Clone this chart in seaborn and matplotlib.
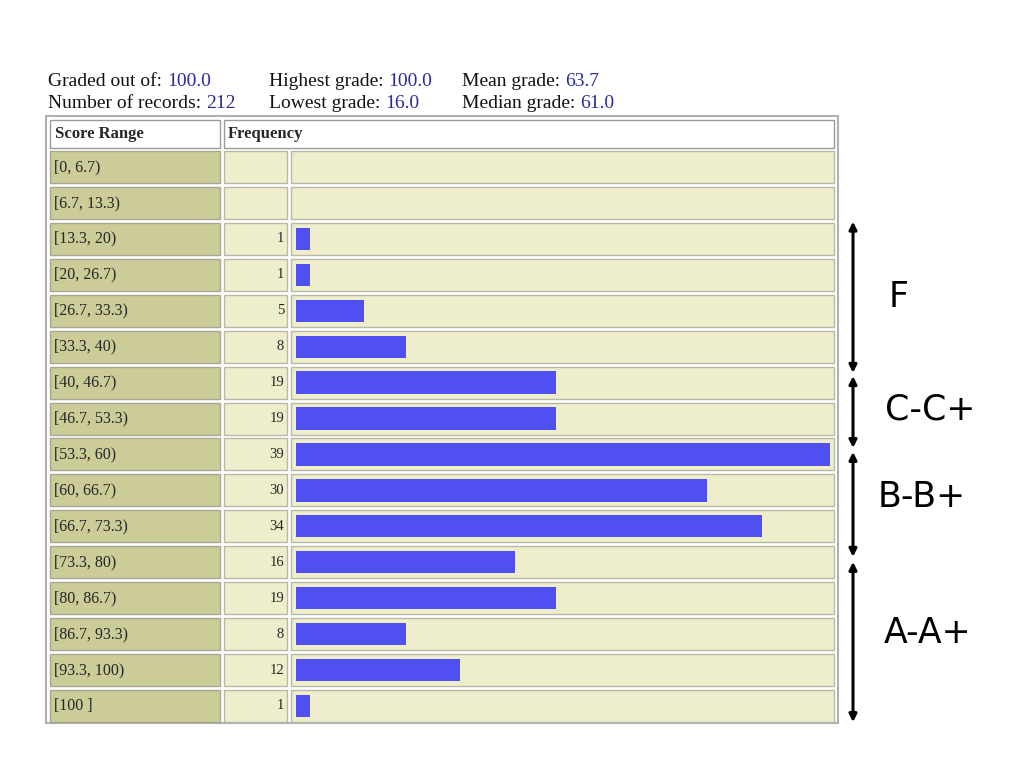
import matplotlib
matplotlib.use("Agg")
import matplotlib.pyplot as plt
import seaborn as sns
import pandas as pd
from matplotlib.patches import Rectangle

# data
ranges = ["[0, 6.7)", "[6.7, 13.3)", "[13.3, 20)", "[20, 26.7)", "[26.7, 33.3)",
          "[33.3, 40)", "[40, 46.7)", "[46.7, 53.3)", "[53.3, 60)", "[60, 66.7)",
          "[66.7, 73.3)", "[73.3, 80)", "[80, 86.7)", "[86.7, 93.3)", "[93.3, 100)",
          "[100 ]"]
freq = [0, 0, 1, 1, 5, 8, 19, 19, 39, 30, 34, 16, 19, 8, 12, 1]

stat_labels = [["Graded out of:", "Number of records:"],
               ["Highest grade:", "Lowest grade:"],
               ["Mean grade:", "Median grade:"]]
stat_values = [["100.0", "212"], ["100.0", "16.0"], ["63.7", "61.0"]]

grade_bands = ["F", "C-C+", "B-B+", "A-A+"]
# hand-drawn arrow extents, in row units (row index, 0 = first row)
band_span = [(1.52, 5.73), (5.82, 7.82), (7.93, 10.85), (10.99, 15.45)]
band_label_row = [3.62, 6.75, 9.18, 12.97]

df = pd.DataFrame({"range": ranges, "freq": freq})

sns.set_style("white")
fig = plt.figure(figsize=(10.24, 7.68), dpi=100)

# base layer in pixel coordinates
base = fig.add_axes([0, 0, 1, 1])
base.set_xlim(0, 1024)
base.set_ylim(768, 0)
base.axis("off")

serif = "Liberation Serif"
blue_txt = "#2a2a9a"
pitch = 35.93
row0 = 167  # center of first row

# stats header
fig.canvas.draw()
renderer = fig.canvas.get_renderer()
col_x = [48, 269, 462]
for c in range(3):
    for r in range(2):
        y = 82 + r * 22
        t = base.text(col_x[c], y, stat_labels[c][r], family=serif, fontsize=14,
                      va="center", ha="left", color="#111111")
        bb = t.get_window_extent(renderer=renderer)
        base.text(col_x[c] + bb.width + 5, y, stat_values[c][r], family=serif,
                  fontsize=14, va="center", ha="left", color=blue_txt)

# outer table frame
base.add_patch(Rectangle((46, 116), 792, 607, fill=False, ec="#b0b0b0", lw=1.5))

# header cells
base.add_patch(Rectangle((50, 120), 170, 28, fc="white", ec="#9a9a9a", lw=1))
base.add_patch(Rectangle((224, 120), 610, 28, fc="white", ec="#9a9a9a", lw=1))
base.text(55, 134, "Score Range", family=serif, fontsize=12, weight="bold", va="center")
base.text(228, 134, "Frequency", family=serif, fontsize=12, weight="bold", va="center")

# body cells
for i, (lab, f) in enumerate(zip(ranges, freq)):
    cy = row0 + i * pitch
    top = cy - 16
    base.add_patch(Rectangle((50, top), 170, 32, fc="#cccc99", ec="#a8a890", lw=1))
    base.add_patch(Rectangle((224, top), 63, 32, fc="#eeeecc", ec="#b8b8a8", lw=1))
    base.add_patch(Rectangle((291, top), 543, 32, fc="#eeeecc", ec="#b8b8a8", lw=1))
    base.text(54, cy, lab, family=serif, fontsize=11.5, va="center", ha="left")
    if f > 0:
        base.text(284, cy, str(f), family=serif, fontsize=10.5, va="center", ha="right")

# bars with seaborn on an overlay axes
ytop = row0 - pitch / 2
ybot = row0 + 15 * pitch + pitch / 2
ax = fig.add_axes([296 / 1024, 1 - ybot / 768, (830 - 296) / 1024, (ybot - ytop) / 768])
ax.patch.set_alpha(0)
sns.barplot(data=df, x="freq", y="range", orient="h", color="#4f4ff2",
            saturation=1, width=0.62, linewidth=0, ax=ax)
ax.set_xlim(0, 39)
ax.set_ylim(15.5, -0.5)
ax.axis("off")

# grade band arrows
ax_x = 853
label_x = [889, 930, 922, 928]
for name, (a, b), lr, lx in zip(grade_bands, band_span, band_label_row, label_x):
    y1 = row0 + a * pitch
    y2 = row0 + b * pitch
    base.annotate("", xy=(ax_x, y1), xytext=(ax_x, y2),
                  arrowprops=dict(arrowstyle="<|-|>", color="black", lw=2.2,
                                  mutation_scale=11, shrinkA=0, shrinkB=0))
    base.text(lx, row0 + lr * pitch, name, fontsize=25,
              family="DejaVu Sans", ha="left" if name == "F" else "center",
              va="center", color="black")

fig.savefig("out.png", dpi=100)
plt.close(fig)
